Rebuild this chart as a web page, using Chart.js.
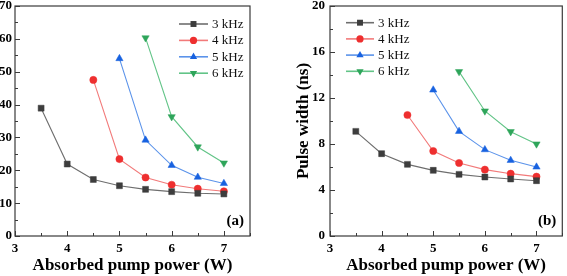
<!DOCTYPE html>
<html><head><meta charset="utf-8">
<script src="https://cdn.jsdelivr.net/npm/chart.js@4/dist/chart.umd.min.js"></script>
<style>
html,body{margin:0;padding:0;background:#fff;overflow:hidden;width:567px;height:276px;position:relative}
.box{position:absolute;top:0;height:276px}
#wa{left:-40px;width:300px}
#wb{left:290px;width:277px}
</style></head><body>
<div class="box" id="wa"><canvas id="ca"></canvas></div>
<div class="box" id="wb"><canvas id="cb"></canvas></div>
<script>
// ---- data ----
const seriesLabels = ['3 kHz', '4 kHz', '5 kHz', '6 kHz'];
const power3 = [3.5, 4, 4.5, 5, 5.5, 6, 6.5, 7];
const power4 = [4.5, 5, 5.5, 6, 6.5, 7];
const power5 = [5, 5.5, 6, 6.5, 7];
const power6 = [5.5, 6, 6.5, 7];
// (a) left panel
const energy3 = [38.9, 21.9, 17.2, 15.3, 14.2, 13.5, 13.0, 12.8];
const energy4 = [47.5, 23.4, 17.8, 15.6, 14.4, 13.6];
const energy5 = [54.0, 29.2, 21.5, 17.9, 16.0];
const energy6 = [60.3, 36.3, 27.1, 22.2];
// (b) right panel
const width3 = [9.10, 7.16, 6.23, 5.71, 5.36, 5.13, 4.96, 4.81];
const width4 = [10.52, 7.39, 6.35, 5.77, 5.42, 5.16];
const width5 = [12.7, 9.10, 7.51, 6.58, 6.0];
const width6 = [14.29, 10.87, 9.07, 8.0];
const xTicks = [3, 4, 5, 6, 7];
const xMinor = [3.5, 4.5, 5.5, 6.5, 7.5];
const yTicksA = [0, 10, 20, 30, 40, 50, 60, 70];
const yMinorA = [5, 15, 25, 35, 45, 55, 65];
const yTicksB = [0, 4, 8, 12, 16, 20];
const yMinorB = [2, 6, 10, 14, 18];
const xTitle = 'Absorbed pump power (W)';
const yTitleB = 'Pulse width (ns)';

// ---- styles ----
const markerColors = ['#3d3d3d', '#ee2f2f', '#1862e0', '#2ea55a'];
const lineColors = ['#6e6e6e', '#f27a7a', '#5b93ea', '#62c487'];
const styles = ['rect', 'circle', 'triangle', 'triangle'];
const rots = [0, 0, 0, 180];
const radii = [4.2, 3.6, 4.2, 4.2];
const serif = 'Liberation Serif';

function toPts(xs, ys) { return xs.map((v, i) => ({x: v, y: ys[i]})); }
function makeDatasets(ys) {
  const xs = [power3, power4, power5, power6];
  return ys.map((arr, i) => ({
    label: seriesLabels[i],
    data: toPts(xs[i], arr),
    borderColor: lineColors[i],
    backgroundColor: markerColors[i],
    pointBackgroundColor: markerColors[i],
    pointBorderColor: markerColors[i],
    pointBorderWidth: 0.5,
    pointStyle: styles[i],
    rotation: rots[i],
    pointRadius: radii[i],
    borderWidth: 1.1,
    tension: 0,
    showLine: true
  }));
}

function drawMarker(ctx, style, rot, r, x, y, color) {
  ctx.save();
  ctx.fillStyle = color;
  ctx.translate(x, y);
  ctx.rotate(rot * Math.PI / 180);
  ctx.beginPath();
  if (style === 'rect') {
    const s = r * Math.SQRT2 / 2 * 1.0;
    ctx.rect(-s, -s, 2 * s, 2 * s);
  } else if (style === 'circle') {
    ctx.arc(0, 0, r, 0, Math.PI * 2);
  } else {
    ctx.moveTo(0, -r);
    ctx.lineTo(r * Math.sin(Math.PI / 3), r * 0.5);
    ctx.lineTo(-r * Math.sin(Math.PI / 3), r * 0.5);
    ctx.closePath();
  }
  ctx.fill();
  ctx.restore();
}

const decor = {
  id: 'decor',
  afterDraw(chart, args, o) {
    const {ctx, chartArea: a, scales: {x, y}} = chart;
    ctx.save();
    ctx.strokeStyle = '#3a3a3a';
    ctx.lineWidth = 1.2;
    ctx.strokeRect(a.left, a.top, a.right - a.left, a.bottom - a.top);
    ctx.lineWidth = 1;
    const seg = (x1, y1, x2, y2) => { ctx.beginPath(); ctx.moveTo(x1, y1); ctx.lineTo(x2, y2); ctx.stroke(); };
    xTicks.forEach(v => { const p = Math.round(x.getPixelForValue(v)) + 0.5; seg(p, a.bottom, p, a.bottom - 5); });
    xMinor.forEach(v => { const p = Math.round(x.getPixelForValue(v)) + 0.5; seg(p, a.bottom, p, a.bottom - 3); });
    o.yMajor.forEach(v => { const p = Math.round(y.getPixelForValue(v)) + 0.5; seg(a.left, p, a.left + 5, p); });
    o.yMinor.forEach(v => { const p = Math.round(y.getPixelForValue(v)) + 0.5; seg(a.left, p, a.left + 3, p); });
    // legend
    const L = o.legend;
    ctx.font = '13px "' + serif + '"';
    ctx.textBaseline = 'middle';
    ctx.textAlign = 'left';
    chart.data.datasets.forEach((d, i) => {
      const yy = L.y + i * L.dy;
      const x0 = L.fromRight ? a.right - L.x : a.left + L.x;
      ctx.strokeStyle = d.borderColor;
      ctx.lineWidth = 1.6;
      seg(x0, yy, x0 + L.len, yy);
      drawMarker(ctx, d.pointStyle, d.rotation, d.pointRadius, x0 + L.len / 2, yy, d.pointBackgroundColor);
      ctx.fillStyle = '#111';
      ctx.fillText(d.label, x0 + L.len + 4, yy + 0.5);
    });
    // panel tag
    ctx.font = 'bold 15px "' + serif + '"';
    ctx.textAlign = 'right';
    ctx.fillStyle = '#000';
    ctx.fillText(o.tag, a.right - 6, a.bottom - 15);
    ctx.restore();
  }
};

function makeChart(id, ys, yMin, yMax, yTicks, yMinor, tag, yTitle, yWidth, pad, legend, yPad) {
  const tickFont = {family: serif, size: 13, weight: 'bold'};
  return new Chart(document.getElementById(id), {
    type: 'scatter',
    data: {datasets: makeDatasets(ys)},
    plugins: [decor],
    options: {
      responsive: true, maintainAspectRatio: false, animation: false, devicePixelRatio: 1,
      layout: {padding: pad},
      plugins: {
        legend: {display: false}, tooltip: {enabled: false},
        decor: {yMajor: yTicks, yMinor: yMinor, legend: legend, tag: tag}
      },
      scales: {
        x: {
          type: 'linear', min: 3, max: 7.5,
          afterBuildTicks: s => { s.ticks = xTicks.map(v => ({value: v})); },
          afterFit: s => { s.height = 40; s.paddingLeft = 0; s.paddingRight = 0; },
          grid: {display: false, drawTicks: false},
          border: {display: false},
          ticks: {font: tickFont, color: '#000', padding: 5, maxRotation: 0},
          title: {display: true, text: xTitle, color: '#000', font: {family: serif, size: 17, weight: 'bold'}, padding: {top: 0, bottom: 0}}
        },
        y: {
          type: 'linear', min: yMin, max: yMax,
          afterBuildTicks: s => { s.ticks = yTicks.map(v => ({value: v})); },
          afterFit: s => { s.width = yWidth; s.paddingTop = 0; s.paddingBottom = 0; },
          grid: {display: false, drawTicks: false},
          border: {display: false},
          ticks: {font: tickFont, color: '#000', padding: yPad},
          title: {display: !!yTitle, text: yTitle || '', color: '#000', font: {family: serif, size: 17, weight: 'bold'}, padding: {top: 3, bottom: 0}}
        }
      }
    }
  });
}

makeChart('ca', [energy3, energy4, energy5, energy6], 0, 70, yTicksA, yMinorA, '(a)', null, 55,
  {top: 6, right: 10, left: 0, bottom: 0}, {x: 71, len: 29, y: 24, dy: 16.4, fromRight: true}, 3);
makeChart('cb', [width3, width4, width5, width6], 0, 20, yTicksB, yMinorB, '(b)', yTitleB, 40,
  {top: 6, right: 4, left: 0, bottom: 0}, {x: 16, len: 28, y: 22.7, dy: 16.2, fromRight: false}, 5);
</script>
</body></html>
